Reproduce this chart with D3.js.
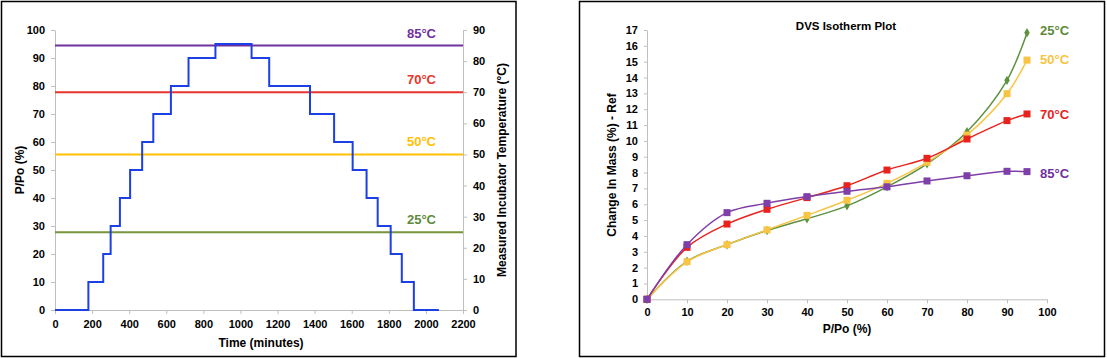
<!DOCTYPE html>
<html><head><meta charset="utf-8">
<script src="https://cdn.jsdelivr.net/npm/d3@7"></script>
<style>
body{margin:0;background:#fff;}
text{font-family:"Liberation Sans",Arial,sans-serif;font-weight:bold;}
</style></head>
<body><svg id="c" width="1107" height="358"></svg>
<script>
// ---------- Left chart data ----------
const stepTimes = [0,180,260,300,350,405,470,530,625,720,865,1060,1155,1375,1505,1605,1680,1740,1810,1870,1935,2070];
const stepValues = [0,10,20,30,40,50,60,70,80,90,95,90,80,70,60,50,40,30,20,10,0];
const tempLevels = [85,70,50,25];
const tempLabels = ["85°C","70°C","50°C","25°C"];
const tempColors = ["#7030A0","#E8352B","#FFC000","#77933C"];
const tempLabelColors = ["#7030A0","#E8352B","#FFC000","#5E8A3A"];
const leftYTicks = [0,10,20,30,40,50,60,70,80,90,100];
const rightYTicks = [0,10,20,30,40,50,60,70,80,90];
const timeTicks = [0,200,400,600,800,1000,1200,1400,1600,1800,2000,2200];

// ---------- Right chart data ----------
const rhValues = [0,10,20,30,40,50,60,70,80,90,95];
const mass25 = [0,2.4,3.45,4.35,5.08,5.9,7.1,8.55,10.58,13.82,16.83];
const mass50 = [0,2.37,3.45,4.38,5.3,6.25,7.32,8.65,10.37,12.98,15.1];
const mass70 = [0,3.28,4.75,5.68,6.42,7.17,8.16,8.9,10.12,11.28,11.7];
const mass85 = [0,3.45,5.47,6.06,6.48,6.82,7.1,7.47,7.8,8.08,8.06];
const seriesNames = ["25°C","50°C","70°C","85°C"];
const seriesColors = ["#5E9141","#F7C443","#E8231E","#7F3FA8"];
const seriesLabelColors = ["#5E8A3A","#F7C443","#E8231E","#7030A0"];
const massTicks = d3.range(0,18);
const rhTicks = [0,10,20,30,40,50,60,70,80,90,100];

const svg = d3.select("#c");
const axisGray = "#BFBFBF";
const fmt = d3.format("d");

// Panel borders
svg.append("rect").attr("x",1.5).attr("y",1.5).attr("width",514.5).attr("height",355).attr("fill","none").attr("stroke","#000").attr("stroke-width",1.5);
svg.append("rect").attr("x",579.5).attr("y",1.5).attr("width",525).attr("height",355).attr("fill","none").attr("stroke","#000").attr("stroke-width",1.5);

// ===== LEFT =====
const L = svg.append("g");
const xT = d3.scaleLinear().domain([0,2200]).range([55,463]);
const yP = d3.scaleLinear().domain([0,100]).range([310,30]);
const yT = d3.scaleLinear().domain([0,90]).range([310,30]);

function styleAxis(g){
  g.select(".domain").attr("stroke",axisGray);
  g.selectAll(".tick line").attr("stroke",axisGray);
  g.selectAll(".tick text").attr("fill","#000").style("font-size","11px").style("font-family","Liberation Sans, Arial, sans-serif").style("font-weight","bold");
}
L.append("g").attr("transform","translate(55,0)")
 .call(d3.axisLeft(yP).tickValues(leftYTicks).tickFormat(fmt).tickSize(4).tickSizeOuter(0).tickPadding(6)).call(styleAxis);
L.append("g").attr("transform","translate(463,0)")
 .call(d3.axisRight(yT).tickValues(rightYTicks).tickFormat(fmt).tickSize(4).tickSizeOuter(0).tickPadding(6)).call(styleAxis);
L.append("g").attr("transform","translate(0,310)")
 .call(d3.axisBottom(xT).tickValues(timeTicks).tickFormat(fmt).tickSize(4).tickSizeOuter(0).tickPadding(6)).call(styleAxis);

// temperature lines
tempLevels.forEach((t,i)=>{
  L.append("line").attr("x1",xT(0)).attr("x2",xT(2200)).attr("y1",yT(t)).attr("y2",yT(t))
   .attr("stroke",tempColors[i]).attr("stroke-width",2);
  L.append("text").attr("x",436).attr("y",yT(t)-8).attr("text-anchor","end")
   .attr("fill",tempLabelColors[i]).style("font-size","13px").text(tempLabels[i]);
});
// step line
const stepPts = stepValues.map((v,i)=>[stepTimes[i],v]);
stepPts.push([stepTimes[stepTimes.length-1], stepValues[stepValues.length-1]]);
L.append("path").datum(stepPts)
 .attr("d",d3.line().x(d=>xT(d[0])).y(d=>yP(d[1])).curve(d3.curveStepAfter))
 .attr("fill","none").attr("stroke","#1C3FE6").attr("stroke-width",2);

L.append("text").attr("transform","translate(24,170) rotate(-90)").attr("text-anchor","middle")
 .style("font-size","12px").text("P/Po (%)");
L.append("text").attr("transform","translate(506,170) rotate(-90)").attr("text-anchor","middle")
 .style("font-size","12px").text("Measured Incubator Temperature (°C)");
L.append("text").attr("x",261).attr("y",347).attr("text-anchor","middle")
 .style("font-size","12px").text("Time (minutes)");

// ===== RIGHT =====
const R = svg.append("g");
const xR = d3.scaleLinear().domain([0,100]).range([647,1047]);
const yM = d3.scaleLinear().domain([0,17]).range([299.3,30]);
R.append("g").attr("transform","translate(647,0)")
 .call(d3.axisLeft(yM).tickValues(massTicks).tickFormat(fmt).tickSize(3).tickSizeOuter(0).tickPadding(6)).call(styleAxis);
R.append("g").attr("transform","translate(0,299.3)")
 .call(d3.axisBottom(xR).tickValues(rhTicks).tickFormat(fmt).tickSize(4).tickSizeOuter(0).tickPadding(5)).call(styleAxis);

const allSeries = [mass25,mass50,mass70,mass85];
const drawOrder = [0,1,2,3];
const lineGen = d3.line().x(d=>xR(d[0])).y(d=>yM(d[1])).curve(d3.curveCatmullRom.alpha(0.5));
drawOrder.forEach(si=>{
  const pts = rhValues.map((x,i)=>[x,allSeries[si][i]]);
  R.append("path").datum(pts).attr("d",lineGen).attr("fill","none")
   .attr("stroke",seriesColors[si]).attr("stroke-width",1.5);
  const m = R.append("g");
  pts.forEach(p=>{
    if(si===0){
      m.append("path").attr("d",d3.symbol().type(d3.symbolDiamond).size(26)())
       .attr("transform",`translate(${xR(p[0])},${yM(p[1])})`).attr("fill",seriesColors[si]);
    } else {
      m.append("rect").attr("x",xR(p[0])-3.5).attr("y",yM(p[1])-3.5).attr("width",7).attr("height",7)
       .attr("fill",seriesColors[si]);
    }
  });
  R.append("text").attr("x",1040).attr("y",yM(allSeries[si][allSeries[si].length-1]) + (si===0?2:si===1?4:si===2?5:6))
   .attr("fill",seriesLabelColors[si]).style("font-size","13px").text(seriesNames[si]);
});

R.append("text").attr("x",846).attr("y",30).attr("text-anchor","middle").style("font-size","11.5px").text("DVS Isotherm Plot");
R.append("text").attr("x",847).attr("y",333).attr("text-anchor","middle").style("font-size","12px").text("P/Po (%)");
R.append("text").attr("transform","translate(616,165) rotate(-90)").attr("text-anchor","middle")
 .style("font-size","12px").text("Change In Mass (%) - Ref");
</script></body></html>
